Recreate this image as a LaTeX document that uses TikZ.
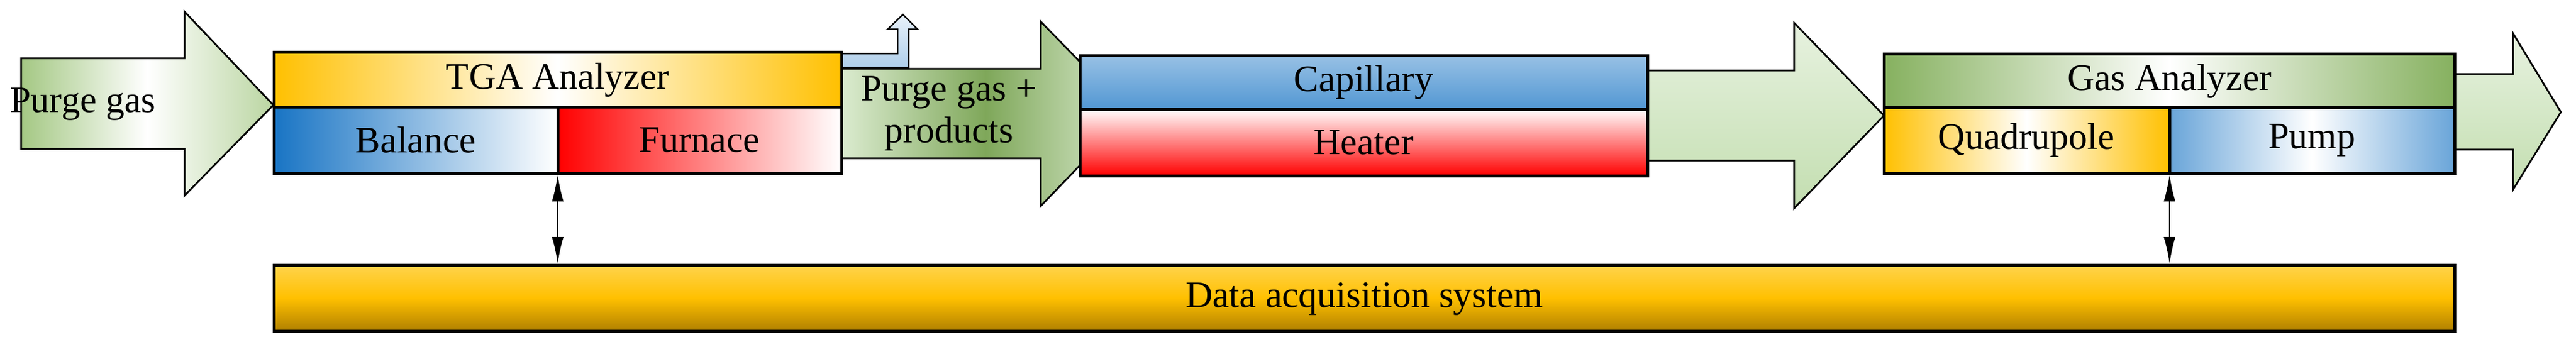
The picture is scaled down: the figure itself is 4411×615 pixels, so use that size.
\documentclass[tikz,border=0pt]{standalone}
\usepackage{fontspec}
\setmainfont{Liberation Serif}
\usetikzlibrary{arrows.meta}
\begin{document}
\begin{tikzpicture}[x=1pt,y=-1pt,
  box/.style={draw=black,line width=5pt},
  arr/.style={draw=black,line width=3pt,line join=miter},
  lbl/.style={font=\fontsize{64}{72}\selectfont,inner sep=0pt,align=center},
  conn/.style={line width=2.5pt,{Latex[length=46pt,width=20pt]}-{Latex[length=46pt,width=20pt]}}]
\useasboundingbox (0,0) rectangle (4411,615);
\definecolor{grn}{HTML}{8DBA64}
\definecolor{lgrn}{HTML}{C3DEB0}
\definecolor{org}{HTML}{FFC000}
\definecolor{blu}{HTML}{1874C4}
\definecolor{gold}{HTML}{B08000}
% arrows
\path[arr,left color=grn!80,right color=grn!60,middle color=white]
  (36,100)--(316,100)--(316,20)--(468,180)--(316,335)--(316,255)--(36,255)--cycle;
\path[arr,left color=lgrn!60,right color=lgrn!60,middle color=grn!90!black]
  (1441,118)--(1782,118)--(1782,37)--(1935,194)--(1782,353)--(1782,271)--(1441,271)--cycle;
\path[arr,top color=lgrn!40,bottom color=lgrn]
  (2821,121)--(3072,121)--(3072,39)--(3226,198)--(3072,357)--(3072,275)--(2821,275)--cycle;
\path[arr,top color=lgrn!40,bottom color=lgrn]
  (4203,127)--(4303,127)--(4303,57)--(4385,192)--(4303,325)--(4303,256)--(4203,256)--cycle;
% exhaust
\path[arr,line width=2.5pt,top color=blu!10,bottom color=blu!35]
  (1441,92)--(1537,92)--(1537,50)--(1520,50)--(1546,25)--(1571,50)--(1556,50)--(1556,116)--(1441,116)--cycle;
% TGA
\path[box,left color=org,right color=org,middle color=white] (469,90) rectangle (1441,183);
\path[box,left color=blu,right color=white] (469,183) rectangle (955,297);
\path[box,left color=red,right color=white] (955,183) rectangle (1441,297);
% capillary/heater
\path[box,top color=blu!45,bottom color=blu!75] (1849,96) rectangle (2821,187);
\path[box,top color=white,bottom color=red] (1849,187) rectangle (2821,301);
% gas analyzer
\path[box,left color=grn!95!black,right color=grn!95!black,middle color=white] (3226,93) rectangle (4203,184);
\path[box,left color=org,right color=org,middle color=white] (3226,184) rectangle (3715,297);
\path[box,left color=blu!65,right color=blu!65,middle color=white] (3715,184) rectangle (4203,297);
% data acquisition
\path[box,top color=org!70,bottom color=gold,middle color=org] (469,454) rectangle (4203,567);
% labels
\node[lbl] (pg) at (142,178) {Purge gas};
\node[lbl] (tga) at (955,137) {TGA Analyzer};
\node[lbl] (bal) at (712,240) {Balance};
\node[lbl] (fur) at (1198,240) {Furnace};
\node[lbl] (pgp) at (1625,194) {Purge gas +\\products};
\node[lbl] (cap) at (2335,141) {Capillary};
\node[lbl] (hea) at (2335,244) {Heater};
\node[lbl] (ga) at (3715,139) {Gas Analyzer};
\node[lbl] (qua) at (3470,240) {Quadrupole};
\node[lbl] (pum) at (3959,240) {Pump};
\node[lbl] (das) at (2336,512) {Data acquisition system};
% connectors
\coordinate (t1) at (955,299); \coordinate (b1) at (955,452);
\coordinate (t2) at (3715,299); \coordinate (b2) at (3715,452);
\draw[conn] (t1) -- (b1);
\draw[conn] (t2) -- (b2);
\end{tikzpicture}
\end{document}
